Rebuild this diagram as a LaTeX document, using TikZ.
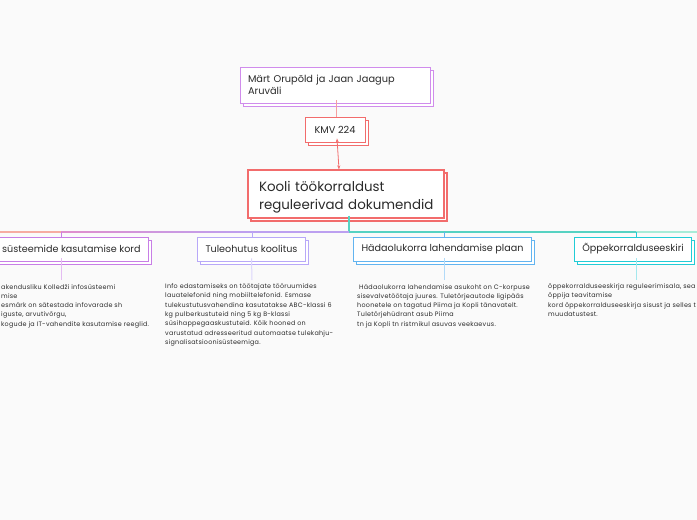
\documentclass[tikz,border=0pt]{standalone}
\usepackage{fontspec}
\setmainfont{Poppins}
\newfontfamily\bodyfont[LetterSpace=4]{Poppins}
\usetikzlibrary{shadows,arrows.meta}
\definecolor{bg}{HTML}{FAFAFA}
\definecolor{cAuth}{HTML}{D08CEC}
\definecolor{cRed}{HTML}{F26C6C}
\definecolor{cLink}{HTML}{F5A0A0}
\definecolor{cB1}{HTML}{C87EE6}
\definecolor{cB2}{HTML}{B8A8F8}
\definecolor{cB3}{HTML}{62B4F0}
\definecolor{cB4}{HTML}{22CCD6}
\definecolor{cV1}{HTML}{E4BCF2}
\definecolor{cV2}{HTML}{DCD6FC}
\definecolor{cV3}{HTML}{B2DAF8}
\definecolor{cV4}{HTML}{A4E8EE}
\definecolor{busA}{HTML}{F6ACA2}
\definecolor{busB}{HTML}{E08ECC}
\definecolor{busC}{HTML}{BCA0F0}
\definecolor{busD}{HTML}{56D2C2}
\definecolor{busE}{HTML}{A8ECD8}
\definecolor{txt}{HTML}{2A2A2A}
\tikzset{
  box/.style={draw=#1, fill=white, line width=0.9pt, copy shadow={shadow xshift=3pt, shadow yshift=-3pt, draw=#1, fill=white},
    text=txt, inner xsep=8pt, inner ysep=0pt},
  branch/.style={box=#1, minimum height=24pt, font=\fontsize{9.6}{12}\selectfont},
  body/.style={anchor=north west, align=left, inner sep=0pt, text=txt, font=\bodyfont\fontsize{6.4}{9.3}\selectfont},
  vline/.style={draw=#1, line width=1pt},
}
\begin{document}
\begin{tikzpicture}[x=1pt,y=-1pt]
\fill[bg] (0,0) rectangle (697,520);
\useasboundingbox (0,0) rectangle (697,520);

% top nodes
\node[box=cAuth, minimum width=190pt, minimum height=36pt, text width=174pt, align=left,
      font=\fontsize{9.8}{12.5}\selectfont] (auth) at (335,85) {Märt Orupõld ja Jaan Jaagup\\Aruväli};
\node[box=cRed, minimum width=60pt, minimum height=25pt, font=\fontsize{9.8}{12}\selectfont] (kmv) at (335,129.5) {KMV 224};
\node[box=cRed, line width=1.2pt, minimum width=196pt, minimum height=48pt, text width=174pt, inner xsep=11pt, align=left,
      text depth=15pt, font=\fontsize{13.4}{18}\selectfont] (main) at (346,194) {Kooli töökorraldust\\\mbox{reguleerivad dokumendid}};

\draw[cLink, line width=1pt] (auth.south) ++(1pt,3pt) -- ([xshift=1pt]kmv.north);
\draw[cRed, line width=0.8pt, {Stealth[length=4pt,width=3pt]}-{Stealth[length=4pt,width=3pt]}]
  ([xshift=2pt,yshift=4pt]kmv.south) -- ([xshift=-7pt]main.north);

% branch nodes
\node[branch=cB1, anchor=east] (b1) at (149,249) {süsteemide kasutamise kord};
\node[branch=cB2] (b2) at (251.5,249) {Tuleohutus koolitus};
\node[branch=cB3] (b3) at (442.5,249) {Hädaolukorra lahendamise plaan};
\node[branch=cB4] (b4) at (633,249) {Õppekorralduseeskiri};

% bus
\coordinate (busL) at (0,232);
\coordinate (busR) at (697,232);
\coordinate (j1) at (61,232);
\coordinate (j2) at (252,232);
\coordinate (jm) at (349,232);
\coordinate (j3) at (444,232);
\coordinate (j4) at (636,232);
\draw[busD, line width=1.2pt] ([xshift=3pt,yshift=3pt]main.south) -- (jm);
\draw[busA, line width=1.3pt] (busL) -- (j1);
\shade[left color=busB, right color=busC] (61,231.35) rectangle (252,232.65);
\draw[busC, line width=1.3pt] (j2) -- (jm);
\draw[busD, line width=1.3pt] (jm) -- (j4);
\draw[busE, line width=1.3pt] (j4) -- (busR);

\draw[vline=cB1] (j1) -- (j1 |- b1.north);
\draw[vline=cB2] (j2) -- (j2 |- b2.north);
\draw[vline=cB3] (j3) -- (j3 |- b3.north);
\draw[vline=cB4] (j4) -- (j4 |- b4.north);

% texts
\node[body] (t1) at (1,284) {akendusliku Kolledži infosüsteemi\\mise\\esmärk on sätestada infovarade sh\\iguste, arvutivõrgu,\\kogude ja IT-vahendite kasutamise reeglid.};
\node[body] (t2) at (165,283.5) {Info edastamiseks on töötajate tööruumides\\lauatelefonid ning mobiiltelefonid. Esmase\\tulekustutusvahendina kasutatakse ABC-klassi 6\\kg pulberkustuteid ning 5 kg B-klassi\\süsihappegaaskustuteid. Kõik hooned on\\varustatud adresseeritud automaatse tulekahju-\\signalisatsioonisüsteemiga.};
\node[body] (t3) at (357,284) {\ Hädaolukorra lahendamise asukoht on C-korpuse\\sisevalvetöötaja juures. Tuletõrjeautode ligipääs\\hoonetele on tagatud Piima ja Kopli tänavatelt.\\Tuletõrjehüdrant asub Piima\\tn ja Kopli tn ristmikul asuvas veekaevus.};
\node[body] (t4) at (548,283.5) {õppekorralduseeskirja reguleerimisala, sea\\õppija teavitamise\\kord õppekorralduseeskirja sisust ja selles t\\muudatustest.};

\draw[vline=cV1] ([yshift=3pt]j1 |- b1.south) -- (61,280) coordinate (e1);
\draw[vline=cV2] ([yshift=3pt]b2.south) -- (252,280) coordinate (e2);
\draw[vline=cV3] ([yshift=3pt]j3 |- b3.south) -- (444,280) coordinate (e3);
\draw[vline=cV4] ([yshift=3pt]j4 |- b4.south) -- (636,280) coordinate (e4);
\end{tikzpicture}
\end{document}
